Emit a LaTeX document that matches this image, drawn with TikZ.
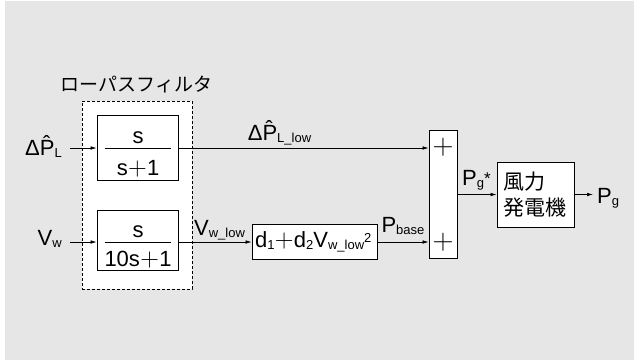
\documentclass[tikz,border=0pt]{standalone}
\usepackage{graphicx}
\usepackage{fontspec}
\setmainfont{Liberation Sans}
\newfontfamily\jp{Noto Sans CJK JP}
\usetikzlibrary{arrows.meta}
\definecolor{bg}{RGB}{230,230,230}
\newcommand\lo[1]{\raisebox{-2pt}{\fontsize{13}{14}\selectfont #1}}
\newcommand\hi[2][5pt]{\raisebox{#1}{\fontsize{13}{14}\selectfont #2}}
\newcommand\pl{\kern0.3pt\scalebox{1.25}{$+$}\kern0.3pt}
\begin{document}
\begin{tikzpicture}[x=1pt,y=-1pt,
  font=\fontsize{22}{26}\selectfont,
  box/.style={draw, fill=white, line width=0.8pt, inner sep=0pt},
  arr/.style={-{Latex[length=6pt,width=3.6pt]}, line width=0.7pt},
  lbl/.style={inner sep=0pt}]
\fill[white] (0,0) rectangle (634,360);
\fill[bg] (5,1) rectangle (634,360);
\useasboundingbox (0,0) rectangle (634,360);

% low-pass filter group
\node[lbl, font=\jp\fontsize{19}{22}\selectfont] (title) at (136.5,85) {ローパスフィルタ};
\node[box, dash pattern=on 3pt off 2pt, minimum width=110, minimum height=188] (lpf) at (137,195) {};

% top filter
\node[box, minimum width=81, minimum height=65] (f1) at (137.5,147.5) {};
\coordinate (a1) at (70,148);
\node[lbl, anchor=south] (n1) at (138,143.5) {s};
\node[lbl, anchor=base] (d1) at (138,175) {s\pl 1};
\draw[line width=0.7pt] ([xshift=8pt]f1.west |- a1) -- ([xshift=-7pt]f1.east |- a1);

% bottom filter
\node[box, minimum width=81, minimum height=60] (f2) at (137.5,240) {};
\coordinate (a2) at (70,242);
\node[lbl, anchor=south] (n2) at (138,237.5) {s};
\node[lbl, anchor=base] (d2) at (138,266) {10s\pl 1};
\draw[line width=0.7pt] ([xshift=8pt]f2.west |- a2) -- ([xshift=-7pt]f2.east |- a2);

% inputs
\node[lbl, anchor=base east] (inP) at (62,155) {Δ\^{P}\lo{L}};
\node[lbl, anchor=base east] (inV) at (62,245) {V\lo{w}};
\draw[arr] (a1) -- (a1 -| f1.west);
\draw[arr] (a2) -- (a2 -| f2.west);

% base power block
\node[box, minimum width=125, minimum height=35] (dbox) at (314.5,241.5) {};
\node[lbl, anchor=base west] (dtext) at (255,247) {d\lo{1}\pl d\lo{2}V\lo{w\_low}\hi{2}};

% summing block
\node[box, minimum width=28, minimum height=128] (sum) at (443,194) {};
\node[lbl] (p1) at (443,147.5) {\scalebox{1.4}{$+$}};
\node[lbl] (p2) at (443,242) {\scalebox{1.4}{$+$}};

% generator
\node[box, minimum width=77, minimum height=65] (gen) at (535.5,194.5) {};
\node[lbl, align=left, font=\jp\fontsize{21}{26}\selectfont] (gtext) at (535,195) {風力\\発電機};
\coordinate (out) at (593,194.5);

% connectors
\draw[arr] (f1.east |- a1) -- (a1 -| sum.west);
\draw[arr] (f2.east |- a2) -- (a2 -| dbox.west);
\draw[arr] (dbox.east |- a2) -- (a2 -| sum.west);
\draw[arr] (sum.east |- gen.west) -- (gen.west);
\draw[arr] (gen.east) -- (out);

% signal labels
\node[lbl, anchor=base] (lP) at (279.5,140) {Δ\^{P}\lo{L\_low}};
\node[lbl, anchor=base] (lV) at (219.5,235) {V\lo{w\_low}};
\node[lbl, anchor=base] (lB) at (403,232) {P\lo{base}};
\node[lbl, anchor=base west] (lG) at (462,185) {P\lo{g}\raisebox{1pt}{\fontsize{17}{18}\selectfont *}};
\node[lbl, anchor=base west] (lO) at (597,203) {P\lo{g}};
\end{tikzpicture}
\end{document}
